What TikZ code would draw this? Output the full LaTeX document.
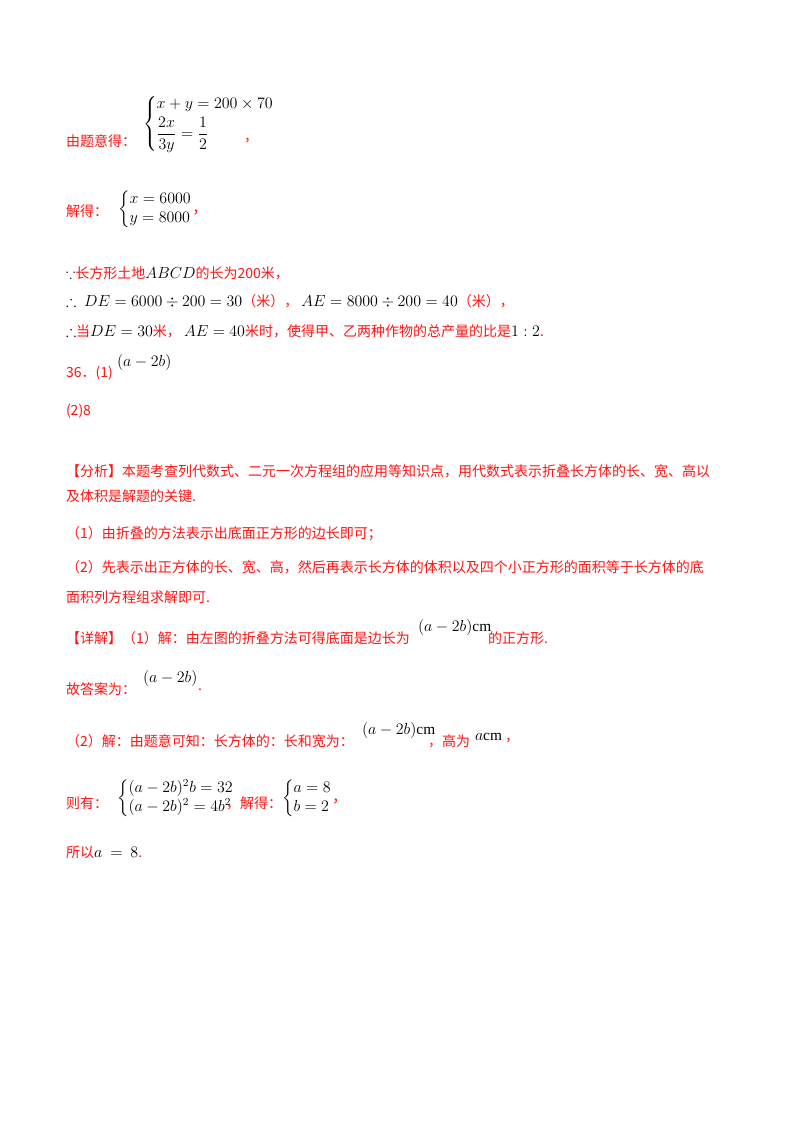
\documentclass[tikz,border=0pt]{standalone}
\usepackage{amsmath,amssymb}
\usepackage{fontspec}
\setmainfont{Noto Sans CJK SC}
\newfontfamily\ser{Liberation Serif}
\definecolor{rd}{RGB}{255,20,20}
\begin{document}
\begin{tikzpicture}[x=0.75pt,y=-0.75pt,every node/.style={inner sep=0pt,outer sep=0pt,font=\fontsize{10.5}{13}\selectfont},
 t/.style={anchor=west,text=rd},m/.style={anchor=west,font=\fontsize{11.5}{14}\selectfont}]
\useasboundingbox (0,0) rectangle (800,1132);
\fill[white] (0,0) rectangle (800,1132);
\node[t] (a1) at (66,141) {由题意得：};
\node[m] (a2) at (143,124) {$\left\{\begin{array}{@{}l@{}} x+y=200\times70\\[2pt] \dfrac{2x}{3y}=\dfrac{1}{2}\end{array}\right.$};
\node[t] (a3) at (244,141) {，};
\node[t] (b1) at (66,211) {解得：};
\node[m] (b2) at (118,209) {$\left\{\begin{array}{@{}l@{}} x=6000\\ y=8000\end{array}\right.$\textcolor{rd}{，}};
\node[t] (c1) at (66,273) {\textcolor{black}{$\because$}长方形土地\textcolor{black}{\fontsize{11.5}{14}\selectfont$ABCD$}的长为200米，};
\node[t] (c2) at (66,301) {\textcolor{black}{\fontsize{11.5}{14}\selectfont$\therefore\ DE=6000\div200=30$}（米），\ \textcolor{black}{\fontsize{11.5}{14}\selectfont$AE=8000\div200=40$}（米），};
\node[t] (c3) at (66,331) {\textcolor{black}{\fontsize{11.5}{14}\selectfont$\therefore$}当\textcolor{black}{\fontsize{11.5}{14}\selectfont$DE=30$}米，\ \textcolor{black}{\fontsize{11.5}{14}\selectfont$AE=40$}米时，使得甲、乙两种作物的总产量的比是\textcolor{black}{\fontsize{11.5}{14}\selectfont$1:2$}.};
\node[t] (d1) at (66,373) {36．(1)};
\node[m] (d2) at (117,362) {$(a-2b)$};
\node[t] (e1) at (66,411) {(2)8};
\node[t] (f1) at (66,471) {【分析】本题考查列代数式、二元一次方程组的应用等知识点，用代数式表示折叠长方体的长、宽、高以};
\node[t] (f2) at (66,496) {及体积是解题的关键.};
\node[t] (f3) at (66,534) {（1）由折叠的方法表示出底面正方形的边长即可；};
\node[t] (f4) at (66,567) {（2）先表示出正方体的长、宽、高，然后再表示长方体的体积以及四个小正方形的面积等于长方体的底};
\node[t] (f5) at (66,597) {面积列方程组求解即可.};
\node[t] (g1) at (66,638) {【详解】（1）解：由左图的折叠方法可得底面是边长为};
\node[m] (g2) at (418,627) {$(a-2b)${\ser cm}};
\node[t] (g3) at (488,638) {的正方形.};
\node[t] (h1) at (66,689) {故答案为：};
\node[m] (h2) at (143,678) {$(a-2b)$};
\node[t] (h3) at (198,690) {.};
\node[t] (i1) at (66,741) {（2）解：由题意可知：长方体的：长和宽为：};
\node[m] (i2) at (362,730) {$(a-2b)${\ser cm}};
\node[t] (i3) at (428,741) {，高为};
\node[m] (i4) at (475,737) {$a${\ser cm}};
\node[t] (i5) at (505,741) {，};
\node[t] (j1) at (66,803) {则有：};
\node[m] (j2) at (117,798) {$\left\{\begin{array}{@{}l@{}} (a-2b)^2b=32\\ (a-2b)^2=4b^2\end{array}\right.$};
\node[t] (j3) at (226,803) {，解得：};
\node[m] (j4) at (282,798) {$\left\{\begin{array}{@{}l@{}} a=8\\ b=2\end{array}\right.$\textcolor{rd}{，}};
\node[t] (k1) at (66,852) {所以\textcolor{black}{\fontsize{12}{14}\selectfont$a\ =\ 8$}.};
\end{tikzpicture}
\end{document}
